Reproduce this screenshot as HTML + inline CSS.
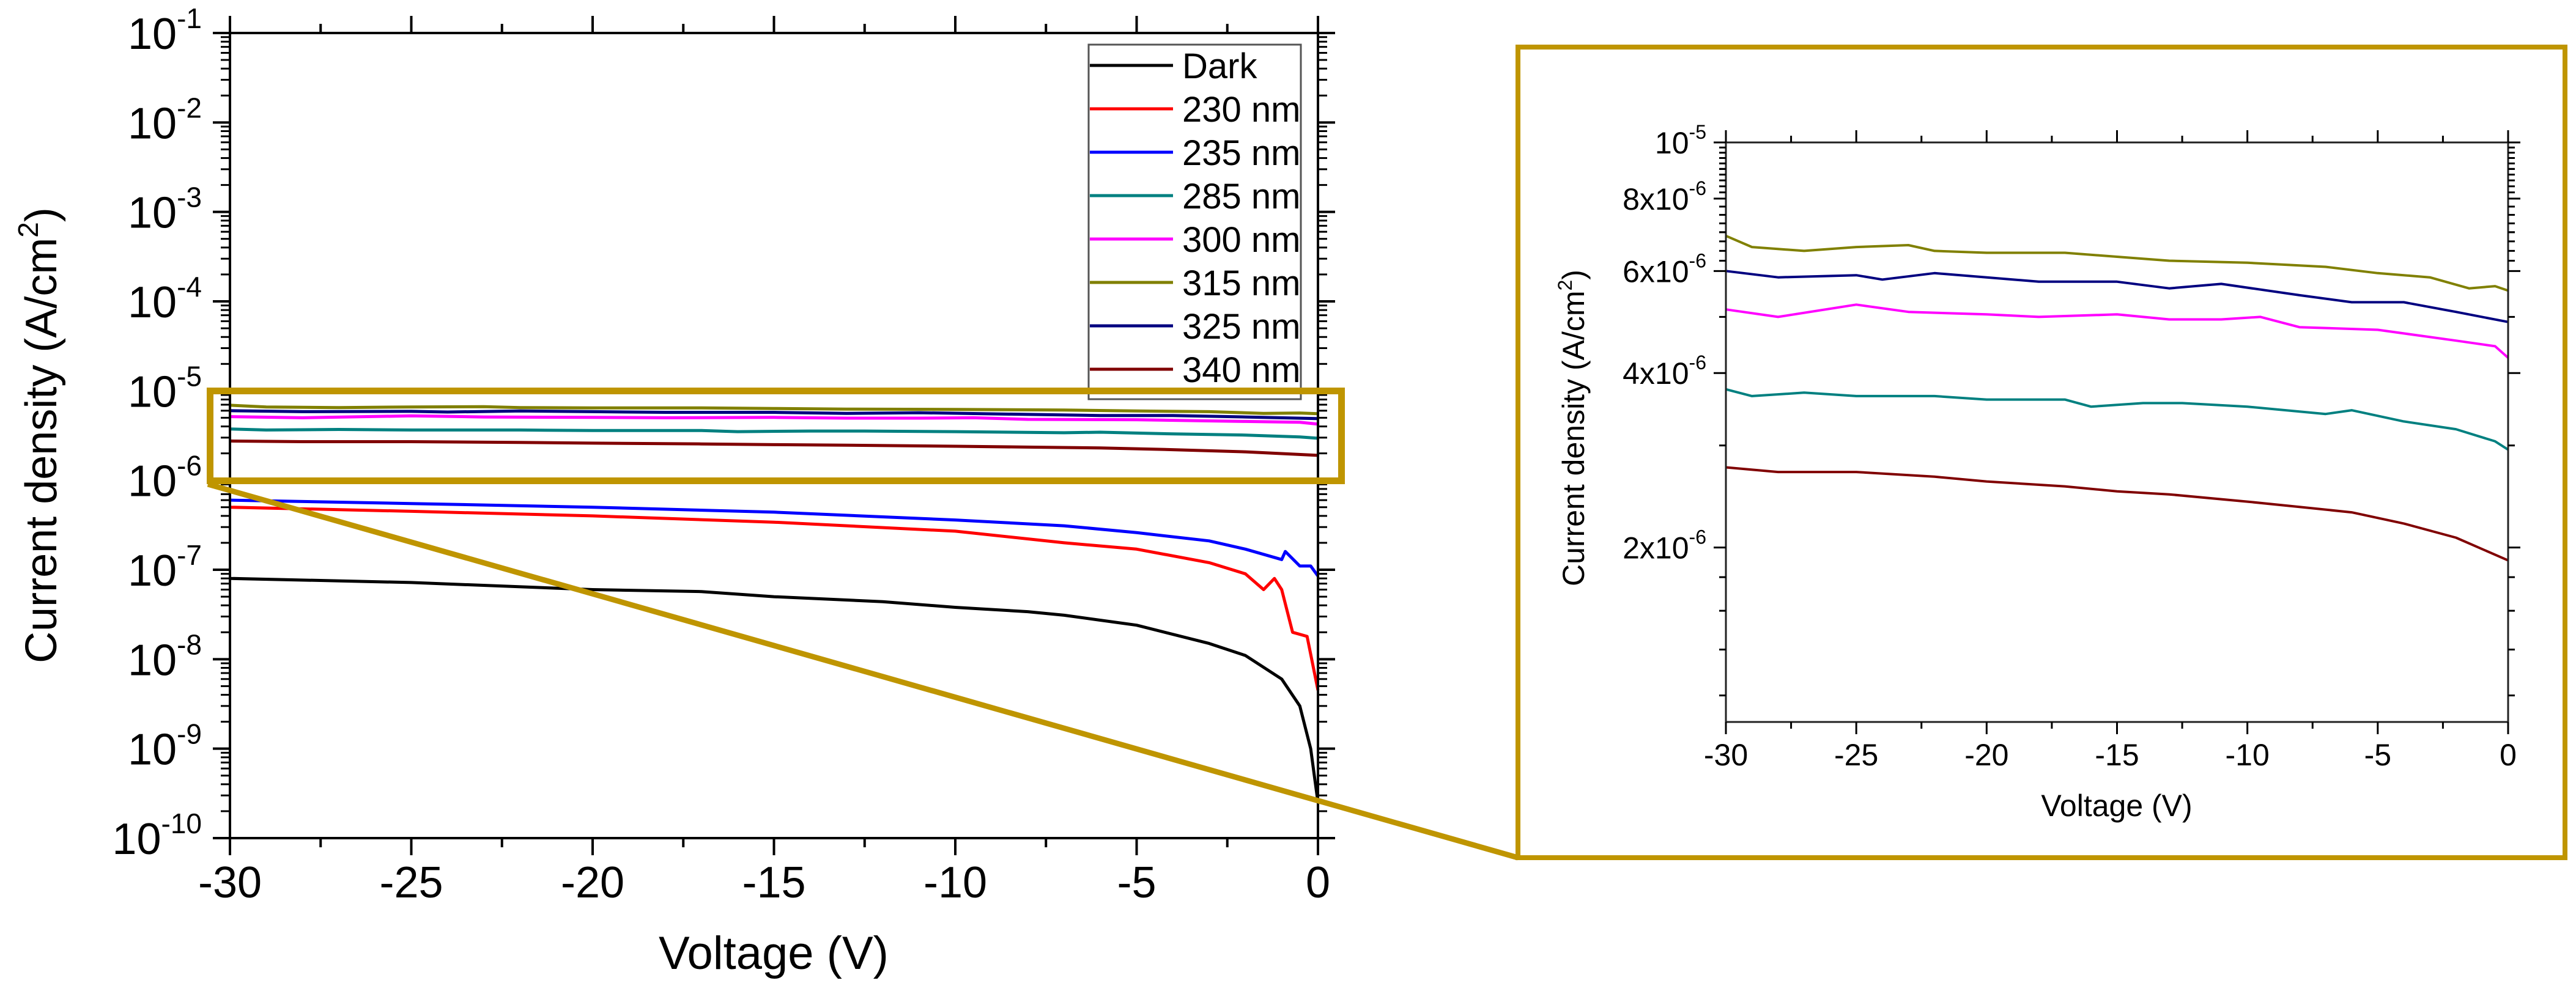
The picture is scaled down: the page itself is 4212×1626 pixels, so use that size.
<!DOCTYPE html>
<html><head><meta charset="utf-8">
<style>
html,body{margin:0;padding:0;background:#fff;}
svg{display:block;font-family:"Liberation Sans",Arial,sans-serif;}
</style></head>
<body>
<svg id="fig" width="4212" height="1626" viewBox="0 0 4212 1626" xmlns="http://www.w3.org/2000/svg">
<rect x="0" y="0" width="4212" height="1626" fill="#fff"/>
<g id="main"></g>
<g id="inset"></g>
<g id="zoom"></g>
</svg>
<script>
// ---------- DATA ----------
const seriesNames = ["Dark","230 nm","235 nm","285 nm","300 nm","315 nm","325 nm","340 nm"];
const seriesColors = ["#000000","#ff0000","#0000ff","#008080","#ff00ff","#808000","#000080","#800000"];
const darkV   = [-30,-25,-20,-17,-15,-12,-10,-8,-7,-5,-3,-2,-1,-0.5,-0.2,0];
const darkJ   = [8e-8,7.2e-8,6e-8,5.7e-8,5e-8,4.4e-8,3.8e-8,3.4e-8,3.1e-8,2.4e-8,1.5e-8,1.1e-8,6e-9,3e-9,1e-9,2.5e-10];
const n230V   = [-30,-25,-20,-15,-10,-7,-5,-3,-2,-1.5,-1.2,-1,-0.7,-0.3,0];
const n230J   = [5e-7,4.5e-7,4e-7,3.4e-7,2.7e-7,2.0e-7,1.7e-7,1.2e-7,9e-8,6e-8,8e-8,6e-8,2e-8,1.8e-8,4.5e-9];
const n235V   = [-30,-25,-20,-15,-10,-7,-5,-3,-2,-1,-0.9,-0.5,-0.2,0];
const n235J   = [6e-7,5.5e-7,5e-7,4.4e-7,3.6e-7,3.1e-7,2.6e-7,2.1e-7,1.7e-7,1.3e-7,1.6e-7,1.1e-7,1.1e-7,8.5e-8];
const n285V   = [-30,-29,-27,-25,-22,-20,-17,-16,-14,-12.5,-10,-7,-6,-4,-2,-0.5,0];
const n285J   = [3.75e-6,3.65e-6,3.7e-6,3.65e-6,3.65e-6,3.6e-6,3.6e-6,3.5e-6,3.55e-6,3.55e-6,3.5e-6,3.4e-6,3.45e-6,3.3e-6,3.2e-6,3.05e-6,2.95e-6];
const n300V   = [-30,-28,-25,-23,-20,-18,-15,-13,-11,-9.5,-8,-5,-2,-0.5,0];
const n300J   = [5.15e-6,5.0e-6,5.25e-6,5.1e-6,5.05e-6,5.0e-6,5.05e-6,4.95e-6,4.95e-6,5.0e-6,4.8e-6,4.75e-6,4.55e-6,4.45e-6,4.25e-6];
const n315V   = [-30,-29,-27,-25,-23,-22,-20,-17,-15,-13,-10,-7,-5,-3,-1.5,-0.5,0];
const n315J   = [6.9e-6,6.6e-6,6.5e-6,6.6e-6,6.65e-6,6.5e-6,6.45e-6,6.45e-6,6.35e-6,6.25e-6,6.2e-6,6.1e-6,5.95e-6,5.85e-6,5.6e-6,5.65e-6,5.55e-6];
const n325V   = [-30,-28,-25,-24,-22,-20,-18,-15,-13,-11,-8,-6,-4,-2,0];
const n325J   = [6.0e-6,5.85e-6,5.9e-6,5.8e-6,5.95e-6,5.85e-6,5.75e-6,5.75e-6,5.6e-6,5.7e-6,5.45e-6,5.3e-6,5.3e-6,5.1e-6,4.9e-6];
const n340V   = [-30,-28,-25,-22,-20,-17,-15,-13,-10,-8,-6,-4,-2,0];
const n340J   = [2.75e-6,2.7e-6,2.7e-6,2.65e-6,2.6e-6,2.55e-6,2.5e-6,2.47e-6,2.4e-6,2.35e-6,2.3e-6,2.2e-6,2.08e-6,1.9e-6];
const xTicks = [-30,-25,-20,-15,-10,-5,0];
const mainYExp = [-1,-2,-3,-4,-5,-6,-7,-8,-9,-10];
const insetYTicks = [2e-6,4e-6,6e-6,8e-6];
const insetYLabels = ["2x10","4x10","6x10","8x10"];

const allV = [darkV,n230V,n235V,n285V,n300V,n315V,n325V,n340V];
const allJ = [darkJ,n230J,n235J,n285J,n300J,n315J,n325J,n340J];

const NS="http://www.w3.org/2000/svg";
function mk(tag, parent, attrs){const e=document.createElementNS(NS,tag);for(const k in attrs)e.setAttribute(k,attrs[k]);parent.appendChild(e);return e;}
const GOLD="#bf9500";

// ---------- MAIN ----------
const M={l:376,r:2155,t:54,b:1371,xmin:-30,xmax:0,ymin:-10,ymax:-1};
const mx=v=>M.l+(v-M.xmin)/(M.xmax-M.xmin)*(M.r-M.l);
const my=j=>M.t+(M.ymax-Math.log10(j))/(M.ymax-M.ymin)*(M.b-M.t);
const main=document.getElementById('main');

// series
for(let s=0;s<allV.length;s++){
  const d=allV[s].map((v,i)=>(i?'L':'M')+mx(v).toFixed(1)+' '+my(allJ[s][i]).toFixed(1)).join(' ');
  const p=mk('path',main,{d:d,fill:'none',stroke:seriesColors[s],'stroke-width':5,'stroke-linejoin':'round'});
  
  
}
// axes frame
const fr=mk('rect',main,{x:M.l,y:M.t,width:M.r-M.l,height:M.b-M.t,fill:'none',stroke:'#000','stroke-width':4});


// x ticks
for(let v=-30;v<=0;v+=2.5){
  const major=(v%5===0);const L=major?28:15;const x=mx(v);
  mk('line',main,{x1:x,y1:M.b,x2:x,y2:M.b+L,stroke:'#000','stroke-width':4});
  mk('line',main,{x1:x,y1:M.t,x2:x,y2:M.t-L,stroke:'#000','stroke-width':4});
}
xTicks.forEach(v=>{
  const t=mk('text',main,{x:mx(v),y:1468,'font-size':72,'text-anchor':'middle',fill:'#000'});
  t.textContent=String(v);
  
  
});
// y ticks
for(let e=-10;e<=-1;e++){
  const y=my(Math.pow(10,e));
  mk('line',main,{x1:M.l,y1:y,x2:M.l-28,y2:y,stroke:'#000','stroke-width':4});
  mk('line',main,{x1:M.r,y1:y,x2:M.r+28,y2:y,stroke:'#000','stroke-width':4});
  if(e<-1){for(let k=2;k<=9;k++){const yy=my(k*Math.pow(10,e));
    mk('line',main,{x1:M.l,y1:yy,x2:M.l-15,y2:yy,stroke:'#000','stroke-width':3});
    mk('line',main,{x1:M.r,y1:yy,x2:M.r+15,y2:yy,stroke:'#000','stroke-width':3});}}
}
mainYExp.forEach(e=>{
  const y=my(Math.pow(10,e));
  const t=mk('text',main,{x:330,y:y+26,'font-size':72,'text-anchor':'end',fill:'#000'});
  
  
  const a=mk('tspan',t,{});a.textContent='10';
  const b=mk('tspan',t,{'font-size':46,dy:-34});b.textContent=String(e);
});
// axis titles
const xt=mk('text',main,{x:1265,y:1585,'font-size':76,'text-anchor':'middle',fill:'#000'});
xt.textContent='Voltage (V)';


const yt=mk('text',main,{x:0,y:0,'font-size':72,'text-anchor':'middle',fill:'#000',transform:'translate(92,712) rotate(-90)'});


{const a=mk('tspan',yt,{});a.textContent='Current density (A/cm';const b=mk('tspan',yt,{'font-size':46,dy:-30});b.textContent='2';const c=mk('tspan',yt,{dy:30});c.textContent=')';}
// legend
const lg=mk('g',main,{});


mk('rect',lg,{x:1780,y:73,width:347,height:580,fill:'#fff',stroke:'#555','stroke-width':3});
seriesNames.forEach((n,i)=>{
  const y=107+i*71;
  const g=mk('g',lg,{});
  
  
  mk('line',g,{x1:1782,y1:y,x2:1918,y2:y,stroke:seriesColors[i],'stroke-width':5});
  const t=mk('text',g,{x:1933,y:y+21,'font-size':58,fill:'#000'});t.textContent=n;
});

// ---------- INSET ----------
const I={l:2822,r:4101,t:233,b:1181,xmin:-30,xmax:0,ymin:-6,ymax:-5};
const ix=v=>I.l+(v-I.xmin)/(I.xmax-I.xmin)*(I.r-I.l);
const iy=j=>I.t+(I.ymax-Math.log10(j))/(I.ymax-I.ymin)*(I.b-I.t);
const ins=document.getElementById('inset');
for(let s=3;s<allV.length;s++){
  const d=allV[s].map((v,i)=>(i?'L':'M')+ix(v).toFixed(1)+' '+iy(allJ[s][i]).toFixed(1)).join(' ');
  const p=mk('path',ins,{d:d,fill:'none',stroke:seriesColors[s],'stroke-width':4,'stroke-linejoin':'round'});
  
  
}
const ifr=mk('rect',ins,{x:I.l,y:I.t,width:I.r-I.l,height:I.b-I.t,fill:'none',stroke:'#222','stroke-width':3});


for(let v=-30;v<=0;v+=2.5){
  const major=(v%5===0);const L=major?20:11;const x=ix(v);
  mk('line',ins,{x1:x,y1:I.b,x2:x,y2:I.b+L,stroke:'#000','stroke-width':3});
  mk('line',ins,{x1:x,y1:I.t,x2:x,y2:I.t-L,stroke:'#000','stroke-width':3});
}
xTicks.forEach(v=>{
  const t=mk('text',ins,{x:ix(v),y:1252,'font-size':50,'text-anchor':'middle',fill:'#000'});
  t.textContent=String(v);
  
  
});
const majorI=[2e-6,4e-6,6e-6,8e-6,1e-5];
majorI.forEach(j=>{const y=iy(j);
  mk('line',ins,{x1:I.l,y1:y,x2:I.l-20,y2:y,stroke:'#000','stroke-width':3});
  mk('line',ins,{x1:I.r,y1:y,x2:I.r+20,y2:y,stroke:'#000','stroke-width':3});});
const minorI=[];
for(let k=0;k<4;k++)minorI.push(1e-6*(1+(2*k+1)/9));
[3e-6,5e-6,7e-6,9e-6].forEach(j=>minorI.push(j));
for(let j=8.2e-6;j<9.95e-6;j+=0.2e-6)minorI.push(j);
for(let j=6.25e-6;j<8e-6;j+=0.25e-6)minorI.push(j);
minorI.forEach(j=>{const y=iy(j);
  mk('line',ins,{x1:I.l,y1:y,x2:I.l-11,y2:y,stroke:'#000','stroke-width':3});
  mk('line',ins,{x1:I.r,y1:y,x2:I.r+11,y2:y,stroke:'#000','stroke-width':3});});
insetYTicks.forEach((j,i)=>{
  const t=mk('text',ins,{x:2790,y:iy(j)+18,'font-size':50,'text-anchor':'end',fill:'#000'});
  
  
  const a=mk('tspan',t,{});a.textContent=insetYLabels[i];
  const b=mk('tspan',t,{'font-size':32,dy:-24});b.textContent='-6';
});
{const t=mk('text',ins,{x:2790,y:iy(1e-5)+18,'font-size':50,'text-anchor':'end',fill:'#000'});
  
  
  const a=mk('tspan',t,{});a.textContent='10';const b=mk('tspan',t,{'font-size':32,dy:-24});b.textContent='-5';}
const ixt=mk('text',ins,{x:3461,y:1335,'font-size':50,'text-anchor':'middle',fill:'#000'});
ixt.textContent='Voltage (V)';


const iyt=mk('text',ins,{x:0,y:0,'font-size':50,'text-anchor':'middle',fill:'#000',transform:'translate(2590,700) rotate(-90)'});


{const a=mk('tspan',iyt,{});a.textContent='Current density (A/cm';const b=mk('tspan',iyt,{'font-size':32,dy:-20});b.textContent='2';const c=mk('tspan',iyt,{dy:20});c.textContent=')';}

// ---------- ZOOM INDICATOR ----------
const z=document.getElementById('zoom');
const zb=mk('rect',z,{x:343.5,y:639.5,width:1850,height:147,fill:'none',stroke:GOLD,'stroke-width':11});


const zl=mk('line',z,{x1:340,y1:792,x2:2482,y2:1403,stroke:GOLD,'stroke-width':9});


const ib=mk('rect',z,{x:2482,y:77,width:3712-2482+0,height:1326,fill:'none',stroke:GOLD,'stroke-width':8});
ib.setAttribute('width',4194-2482);


</script>
</body></html>
